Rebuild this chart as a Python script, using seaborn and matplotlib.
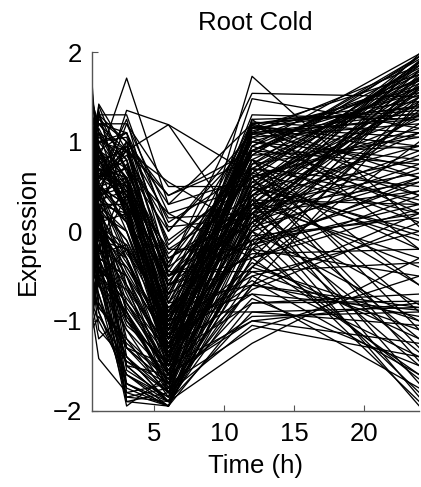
import numpy as np
import pandas as pd
import matplotlib
matplotlib.use("Agg")
import matplotlib.pyplot as plt
import seaborn as sns

# sampling times (h)
times = [0.5, 1, 3, 6, 12, 24]

# expression profiles, one row per gene
cold_up = [
    (0.2, 0.5, 0.3, -1.6, 0.5, 1.95),
    (-0.3, 0.1, -0.6, -1.8, 0.2, 1.98),
    (0.6, 0.8, 0.2, -1.2, 0.9, 1.75),
    (-0.5, -0.2, -1.0, -1.5, 0.0, 1.9),
    (0.0, 0.3, -1.4, -1.9, 0.3, 1.85),
    (0.9, 0.6, 0.5, -0.9, 0.7, 1.8),
    (-0.7, -0.4, -1.3, -1.7, -0.2, 1.7),
    (0.3, 0.9, 0.7, -1.1, 0.8, 1.65),
    (-0.1, -0.5, -0.2, -1.4, 0.4, 1.9),
    (0.5, 0.2, -1.8, -1.95, -0.1, 1.6),
    (1.0, 1.2, 0.9, -0.6, 1.0, 1.55),
    (-0.4, 0.0, -1.5, -1.6, 0.6, 1.88),
    (0.7, 0.4, 0.1, -1.3, 0.1, 1.8),
    (-0.8, -0.6, -0.9, -1.8, -0.4, 1.5),
    (0.1, 0.7, 0.6, -0.8, 0.95, 1.7),
    (0.4, -0.1, -0.3, -1.5, 0.5, 1.78),
    (1.7, 0.6, 0.4, -1.0, 0.85, 1.92),
    (-0.6, -0.9, -1.6, -1.9, -0.6, 1.45),
    (0.8, 1.0, 1.1, -0.5, 0.65, 1.85),
    (-0.9, -0.3, -0.5, -1.2, 0.3, 1.6),
    (0.25, 0.45, -1.3, -1.7, 0.15, 1.72),
    (0.6, 0.1, -1.9, -1.8, 0.75, 1.95),
    (-0.2, 0.6, 0.8, -1.0, 0.55, 1.5),
    (1.2, 0.9, 0.4, -0.7, 1.05, 1.68),
    (0.0, -0.2, 0.4, -1.1, 0.9, 1.82),
    (0.45, 1.42, 0.9, -0.8, 0.7, 1.62),
    (-0.35, -0.7, -1.6, -1.95, -0.3, 1.4),
    (0.95, 0.7, 0.0, -1.4, 0.2, 1.58),
    (-1.05, -0.8, -1.3, -1.5, 0.1, 1.3),
    (0.5, 1.35, 0.1, -1.2, 0.4, 1.45),
    (-0.8, -1.2, -0.9, -1.6, 0.9, 1.6),
    (-0.6, 0.4, 0.6, -1.3, 1.15, 1.75),
    (1.6, 0.8, 0.9, -0.1, 0.6, 1.3),
    (-0.4, -0.2, 0.6, -0.5, 0.2, 1.5),
    (0.2, 0.3, -1.7, -1.9, 0.0, 1.65),
    (1.1, 0.5, -0.2, -1.1, 0.95, 1.98),
    (0.35, 0.15, -0.9, -1.75, 0.35, 1.88),
    (-0.15, 0.35, 0.15, -1.35, 0.65, 1.72),
    (0.75, 1.15, 0.55, -0.95, 0.45, 1.9),
    (-0.55, -0.45, -0.65, -1.55, 0.25, 1.55),
    (0.05, 0.55, 0.95, -0.65, 0.85, 1.95),
    (1.05, 0.3, -1.55, -1.85, 0.05, 1.75),
    (-0.25, -0.85, -1.25, -1.65, 0.4, 1.62),
    (0.55, 0.75, 0.35, -1.45, 1.1, 1.85),
    (-0.7, 0.05, -0.3, -1.25, 0.55, 1.42),
    (0.15, -0.25, -1.75, -1.95, -0.15, 1.35),
    (0.85, 1.25, 1.0, -0.45, 0.9, 1.52),
    (1.35, 0.95, 0.25, -1.15, 0.75, 1.68),
]

plateau = [
    (0.3, 0.8, 1.71, 0.3, 1.2, 1.35),
    (0.5, 0.3, 0.2, -1.4, 1.25, 1.3),
    (-0.2, 0.2, -0.8, -1.6, 1.15, 1.4),
    (0.8, 1.3, 1.0, -0.9, 1.2, 1.45),
    (0.1, -0.3, -0.5, -1.7, 1.1, 1.32),
    (0.6, 0.5, 0.6, -1.0, 1.3, 1.25),
    (-0.5, 0.1, -1.2, -1.85, 1.05, 1.2),
    (1.1, 0.8, 0.3, -0.6, 1.22, 1.1),
    (0.2, 0.6, 1.25, -0.4, 1.54, 1.5),
    (0.7, 0.2, -0.3, -1.3, 1.48, 1.15),
    (-0.1, 0.4, 0.5, -1.2, 1.18, 0.95),
    (0.4, 0.9, 0.2, -1.5, 1.12, 1.6),
    (0.9, 0.7, 0.6, -1.4, 1.73, 0.05),
    (-0.3, 0.0, -0.4, -1.1, 1.08, 1.28),
    (0.55, 0.35, 0.75, -0.7, 1.0, 0.8),
    (0.15, -0.45, -0.9, -1.75, 1.16, 1.05),
    (1.2, 1.3, 1.3, 0.0, 1.1, 0.7),
    (0.75, 1.1, 0.2, -1.2, 1.2, 0.6),
    (0.25, 0.65, 0.45, -1.05, 1.2, 1.38),
    (-0.35, -0.15, -0.95, -1.7, 1.1, 1.25),
    (0.95, 1.05, 0.8, -0.75, 1.18, 0.4),
    (0.45, 0.05, -0.15, -1.45, 1.25, -0.2),
    (-0.05, 0.5, 0.3, -0.95, 1.05, 0.2),
    (1.15, 0.6, 0.7, -0.35, 1.15, 0.9),
]

cold_down = [
    (0.7, 0.4, 1.35, 1.19, 0.63, -0.2),
    (0.2, 0.5, 0.9, 1.19, -0.15, 0.3),
    (1.3, 1.0, 0.6, -0.3, 0.2, -1.95),
    (0.9, 1.2, 0.8, -0.5, -0.1, -1.9),
    (1.0, 0.6, 0.9, 0.55, 0.0, -1.8),
    (0.6, 0.9, 1.1, -0.2, 0.4, -1.7),
    (1.5, 1.1, 0.7, 0.2, -0.3, -1.6),
    (0.3, 0.7, 0.5, -0.6, 0.1, -1.5),
    (-0.2, 0.2, 0.4, -1.0, -0.5, -1.4),
    (0.8, 0.3, 0.0, -1.2, 0.6, -1.3),
    (1.1, 1.3, 0.3, -0.4, 0.3, -1.2),
    (0.4, 0.0, -0.2, -0.9, -0.9, -0.85),
    (-0.6, -0.3, -1.0, -1.5, -1.0, -0.8),
    (0.0, -0.8, -1.4, -1.9, -1.25, -0.3),
    (-0.9, -1.42, -1.8, -1.7, -1.1, -0.5),
    (-1.0, -0.5, -1.95, -1.6, -0.95, -0.9),
    (-0.5, -0.9, -1.7, -1.95, -0.8, -0.78),
    (0.2, -0.2, -0.6, -1.3, -0.7, -0.88),
    (0.5, 0.8, 0.4, -0.8, -0.6, -0.95),
    (-0.3, 0.3, -0.1, -1.1, -0.4, -1.0),
    (1.0, 0.5, 0.2, -0.9, 0.2, -0.82),
    (0.7, 1.1, 0.9, 0.4, 0.8, -1.1),
    (0.1, 0.4, 1.2, 0.5, 0.5, -0.6),
    (-0.7, -0.5, -1.3, -1.8, -1.05, -1.4),
    (0.3, 0.0, -1.0, -1.65, 0.8, -0.6),
    (0.1, 0.9, 0.5, -1.0, -0.7, -1.75),
    (0.65, -0.3, -1.9, -1.95, -0.1, 0.2),
    (-0.95, -0.4, -0.8, -1.4, -0.8, -0.7),
    (1.25, 0.85, 0.45, -0.55, 0.35, -1.85),
    (0.6, 0.25, -0.1, -1.05, -0.2, -1.65),
    (0.95, 1.4, 0.65, -0.25, 0.6, -1.45),
    (-0.1, -0.35, -0.75, -1.35, -0.35, -1.2),
    (0.4, 0.6, 0.85, 0.05, 0.15, -1.35),
    (-0.75, -0.55, -1.5, -1.9, -0.9, -1.05),
    (0.15, 0.1, -0.35, -1.15, -0.55, -1.6),
    (0.8, 0.95, 0.15, -0.85, 0.0, -1.0),
    (1.45, 1.2, 1.1, 0.1, 0.7, -0.9),
    (-0.45, -1.1, -1.45, -1.8, -0.6, -0.85),
    (0.3, -0.4, -1.1, -1.6, -1.0, -1.25),
    (-0.85, -0.7, -1.85, -1.75, -0.75, -1.5),
    (0.7, 0.45, 0.55, -0.45, -0.45, -1.1),
]

mixed = [
    (0.3, 0.1, -0.5, -1.4, 0.2, 0.9),
    (-0.4, -0.6, -1.1, -1.8, -0.3, 0.4),
    (0.6, 0.9, 0.6, -0.7, 0.9, 0.3),
    (1.2, 0.8, 0.2, -1.0, 0.5, 0.0),
    (-0.1, 0.3, 0.3, -1.3, 0.0, 0.7),
    (0.9, 0.4, -0.3, -1.6, -0.4, 1.0),
    (0.0, -0.4, -0.8, -1.5, 0.7, 0.5),
    (0.5, 1.0, 0.9, -0.3, 0.3, -0.3),
    (-0.6, -0.2, -0.4, -1.2, -0.6, 0.2),
    (0.8, 0.6, 1.0, 0.3, 0.6, 1.1),
    (0.2, -0.1, -1.5, -1.9, -0.2, 0.6),
    (-0.3, 0.5, 0.1, -0.5, 0.4, 0.8),
    (1.4, 1.1, 0.5, -0.2, -0.2, -0.5),
    (0.4, 0.2, 0.0, -1.1, 0.8, 0.1),
    (-0.8, -1.0, -1.6, -1.85, -0.5, 0.0),
    (0.1, 0.6, 0.7, 0.0, 1.0, 0.6),
    (0.7, 0.3, -0.9, -1.7, 0.1, 1.2),
    (-0.2, -0.1, -0.2, -0.7, -0.1, 0.45),
    (1.0, 1.2, 1.2, 0.2, 0.5, -0.1),
    (0.35, 0.5, -0.6, -1.4, 0.35, -0.4),
    (-0.5, 0.0, -0.7, -1.6, 0.6, 1.15),
    (0.6, 0.7, 0.3, -0.6, -0.3, 0.25),
    (0.0, 0.2, 1.0, 0.4, 0.9, 0.75),
    (-0.1, -0.4, -1.85, -1.9, 0.45, 0.95),
    (0.85, 0.55, 0.1, -0.8, 0.25, 0.55),
    (-0.45, 0.1, 0.2, -0.9, 0.75, 1.05),
    (0.9, 0.0, -0.5, -1.5, 0.7, 0.35),
    (-0.2, -0.6, -1.4, -1.8, 0.5, 1.25),
    (0.45, 0.85, 0.25, -1.1, 0.3, 0.65),
    (-0.25, -0.05, -0.85, -1.5, -0.05, 0.15),
    (1.05, 0.75, 0.95, 0.15, 0.2, 0.45),
    (-0.65, -0.85, -1.2, -1.65, 0.15, 0.85),
    (0.2, 0.45, -0.25, -0.85, -0.25, -0.2),
    (0.65, 0.15, -0.65, -1.3, 0.55, -0.05),
    (-0.9, -0.25, -0.15, -1.0, 0.35, 0.3),
    (0.1, 1.0, 1.05, -0.15, 0.65, 0.2),
    (1.3, 0.9, 0.4, -0.6, -0.15, 0.55),
    (-0.3, -0.55, -1.7, -1.95, 0.25, 1.1),
    (0.55, 0.35, 0.45, -0.35, 0.85, 0.95),
    (-0.05, 0.25, -0.45, -1.25, -0.45, -0.35),
    (0.9, 1.3, 0.7, -0.5, 0.1, 0.75),
    (-0.5, -0.3, -1.05, -1.45, 0.95, 0.4),
    (0.25, -0.5, -0.95, -1.55, -0.65, 0.1),
    (-1.1, -0.95, -1.45, -1.7, 0.05, 0.6),
]

rows = []
for i, prof in enumerate(cold_up + plateau + cold_down + mixed):
    for t, v in zip(times, prof):
        rows.append({'gene': i, 'time': t, 'expr': v})
df = pd.DataFrame(rows)

sns.set_style("ticks")
plt.rcParams['font.family'] = ['Liberation Sans', 'DejaVu Sans']
plt.rcParams['text.color'] = 'black'
plt.rcParams['axes.labelcolor'] = 'black'

fig = plt.figure(figsize=(4.21, 4.87), dpi=100)
ax = fig.add_axes([0.218, 0.157, 0.778, 0.736])

sns.lineplot(data=df, x='time', y='expr', units='gene', estimator=None,
             color='black', linewidth=0.95, ax=ax, legend=False)

ax.set_xlim(0.5, 24)
ax.set_ylim(-2, 2)
ax.set_xticks([5, 10, 15, 20])
ax.set_yticks([-2, -1, 0, 1, 2])
ax.set_yticklabels(['\u22122', '\u22121', '0', '1', '2'])
ax.tick_params(direction='in', length=4, width=0.8, color='#555555',
               labelsize=18.5, labelcolor='black')
ax.tick_params(axis='x', pad=8)
ax.tick_params(axis='y', pad=7)
for s in ['top', 'right']:
    ax.spines[s].set_visible(False)
for s in ['left', 'bottom']:
    ax.spines[s].set_color('#555555')
    ax.spines[s].set_linewidth(1.0)

ax.set_xlabel('Time (h)', fontsize=18.5, labelpad=6, color='black')
ax.set_ylabel('Expression', fontsize=18.5, labelpad=9, color='black')
ax.set_title('Root Cold', fontsize=18.5, pad=16, color='black')

fig.savefig('out.png', dpi=100)
